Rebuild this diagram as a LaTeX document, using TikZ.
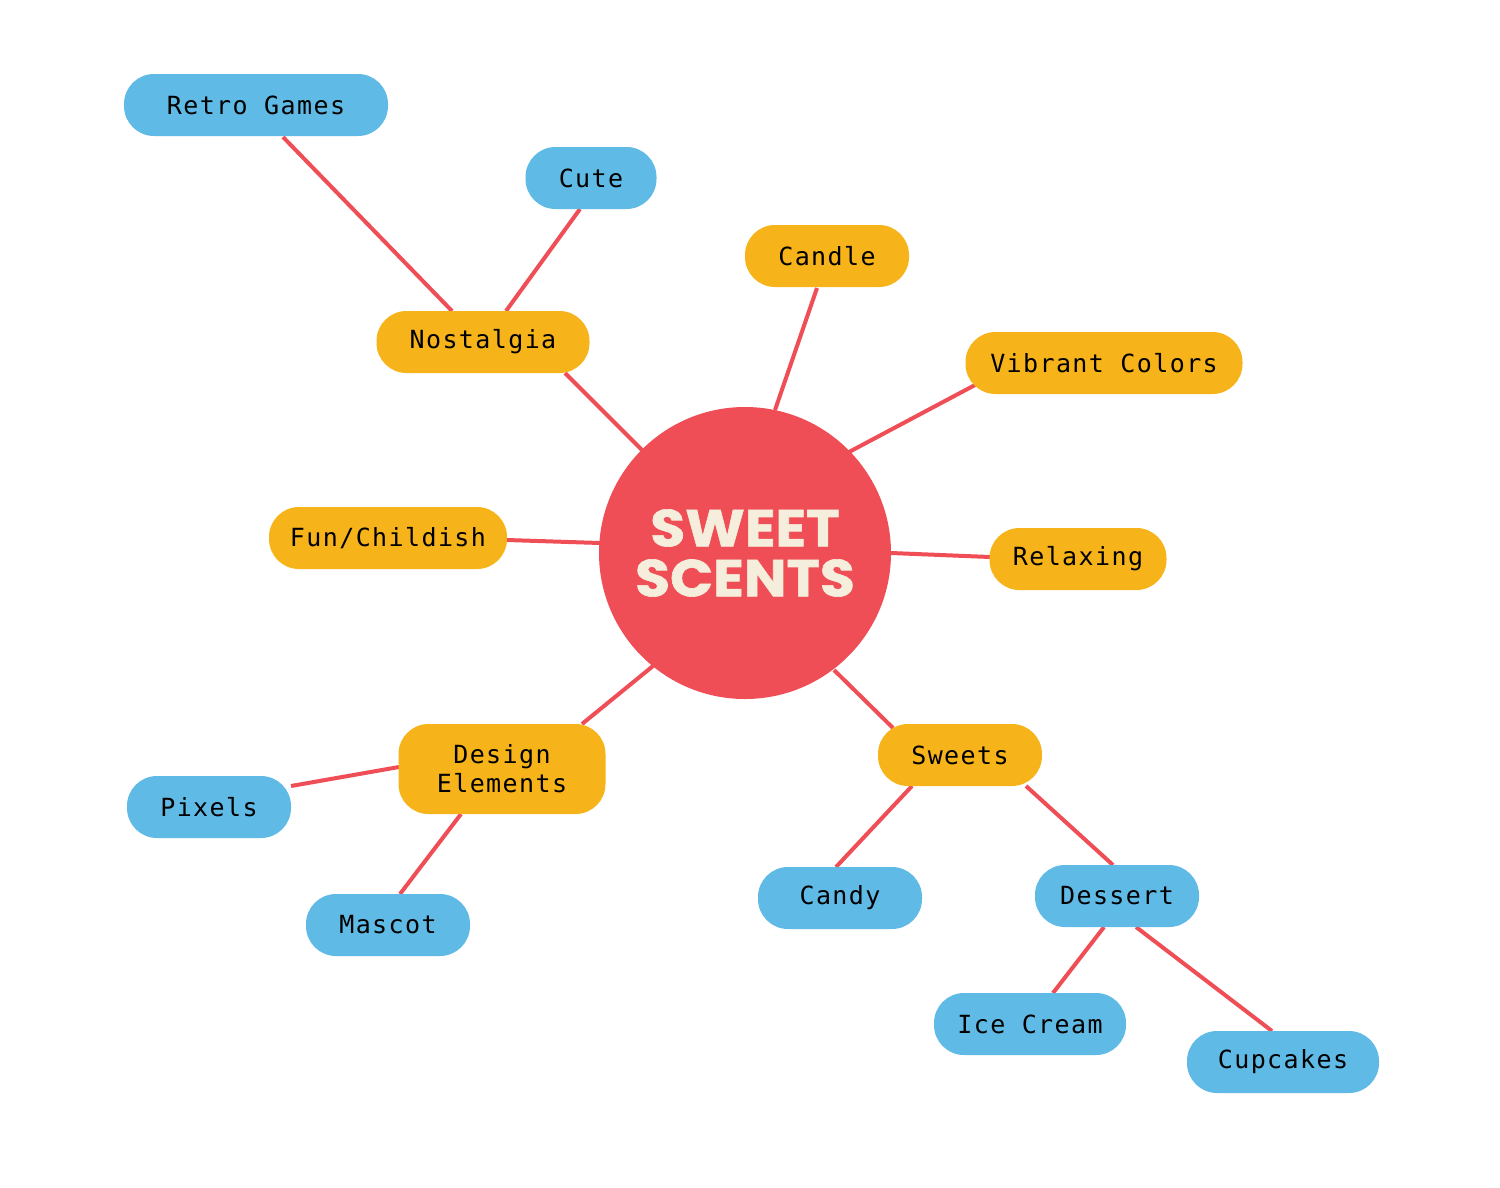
\documentclass[tikz,border=0pt]{standalone}
\usepackage{fontspec}
\usetikzlibrary{calc,backgrounds}
\newfontfamily\labelfont[LetterSpace=5.6]{DejaVu Sans Mono}
\newfontfamily\titlefont[FakeStretch=1.09,FakeBold=1.2]{Poppins}
\definecolor{redC}{HTML}{F04E56}
\definecolor{orangeC}{HTML}{F7B41A}
\definecolor{blueC}{HTML}{5FBAE6}
\definecolor{creamC}{HTML}{F5EEDC}
\tikzset{
  pill/.style={rounded corners=30pt, minimum height=62pt, inner sep=0pt,
    font=\labelfont\fontsize{25}{29}\selectfont, text=black, align=center},
  mainnode/.style={pill, fill=orangeC},
  subnode/.style={pill, fill=blueC},
  link/.style={draw=redC, line width=4pt},
}
\begin{document}
\begin{tikzpicture}[x=1pt,y=-1pt]
\useasboundingbox (0,0) rectangle (1500,1187);
% hub
\node[circle, fill=redC, minimum size=292pt, inner sep=0pt, text=creamC, align=center,
      font=\titlefont\bfseries\fontsize{52}{50}\selectfont] (c) at (745,553) {SWEET\\SCENTS};
% main topics
\node[mainnode, minimum width=213pt] (nost) at (483,342) {Nostalgia};
\node[mainnode, minimum width=164pt] (candle) at (827,256) {Candle};
\node[mainnode, minimum width=277pt] (vib) at (1104,363) {Vibrant Colors};
\node[mainnode, minimum width=238pt] (fun) at (388,538) {Fun/Childish};
\node[mainnode, minimum width=177pt] (relax) at (1078,559) {Relaxing};
\node[mainnode, minimum width=207pt, minimum height=90pt, rounded corners=30pt] (design) at (502,769) {Design\\Elements};
\node[mainnode, minimum width=164pt] (sweets) at (960,755) {Sweets};
% sub topics
\node[subnode, minimum width=264pt] (retro) at (256,105) {Retro Games};
\node[subnode, minimum width=131pt] (cute) at (591,178) {Cute};
\node[subnode, minimum width=164pt] (pixels) at (209,807) {Pixels};
\node[subnode, minimum width=164pt] (mascot) at (388,925) {Mascot};
\node[subnode, minimum width=164pt] (candy) at (840,898) {Candy};
\node[subnode, minimum width=164pt] (dessert) at (1117,896) {Dessert};
\node[subnode, minimum width=192pt] (ice) at (1030,1024) {Ice Cream};
\node[subnode, minimum width=192pt] (cup) at (1283,1062) {Cupcakes};
\begin{scope}[on background layer]
\fill[white] (0,0) rectangle (1500,1187);
\draw[link] ($(retro.center)+(27,32)$) -- ($(nost.center)+(-31,-31)$);
\draw[link] ($(cute.center)+(-11,31)$) -- ($(nost.center)+(23,-31)$);
\draw[link] ($(nost.center)+(82,31)$) -- ($(c.center)+(-103,-103)$);
\draw[link] ($(candle.center)+(-10,32)$) -- ($(c.center)+(30,-143)$);
\draw[link] ($(vib.center)+(-129,22)$) -- ($(c.center)+(104,-101)$);
\draw[link] ($(fun.center)+(119,2)$) -- ($(c.center)+(-145,-10)$);
\draw[link] ($(relax.center)+(-88,-2)$) -- ($(c.center)+(146,0)$);
\draw[link] ($(design.center)+(80,-45)$) -- ($(c.center)+(-92,113)$);
\draw[link] ($(pixels.center)+(82,-21)$) -- ($(design.center)+(-103,-2)$);
\draw[link] ($(mascot.center)+(12,-31)$) -- ($(design.center)+(-41,45)$);
\draw[link] ($(sweets.center)+(-67,-27)$) -- ($(c.center)+(89,117)$);
\draw[link] ($(candy.center)+(-4,-31)$) -- ($(sweets.center)+(-48,31)$);
\draw[link] ($(dessert.center)+(-4,-31)$) -- ($(sweets.center)+(66,31)$);
\draw[link] ($(ice.center)+(23,-31)$) -- ($(dessert.center)+(-13,31)$);
\draw[link] ($(cup.center)+(-11,-31)$) -- ($(dessert.center)+(19,31)$);
\end{scope}
\end{tikzpicture}
\end{document}
